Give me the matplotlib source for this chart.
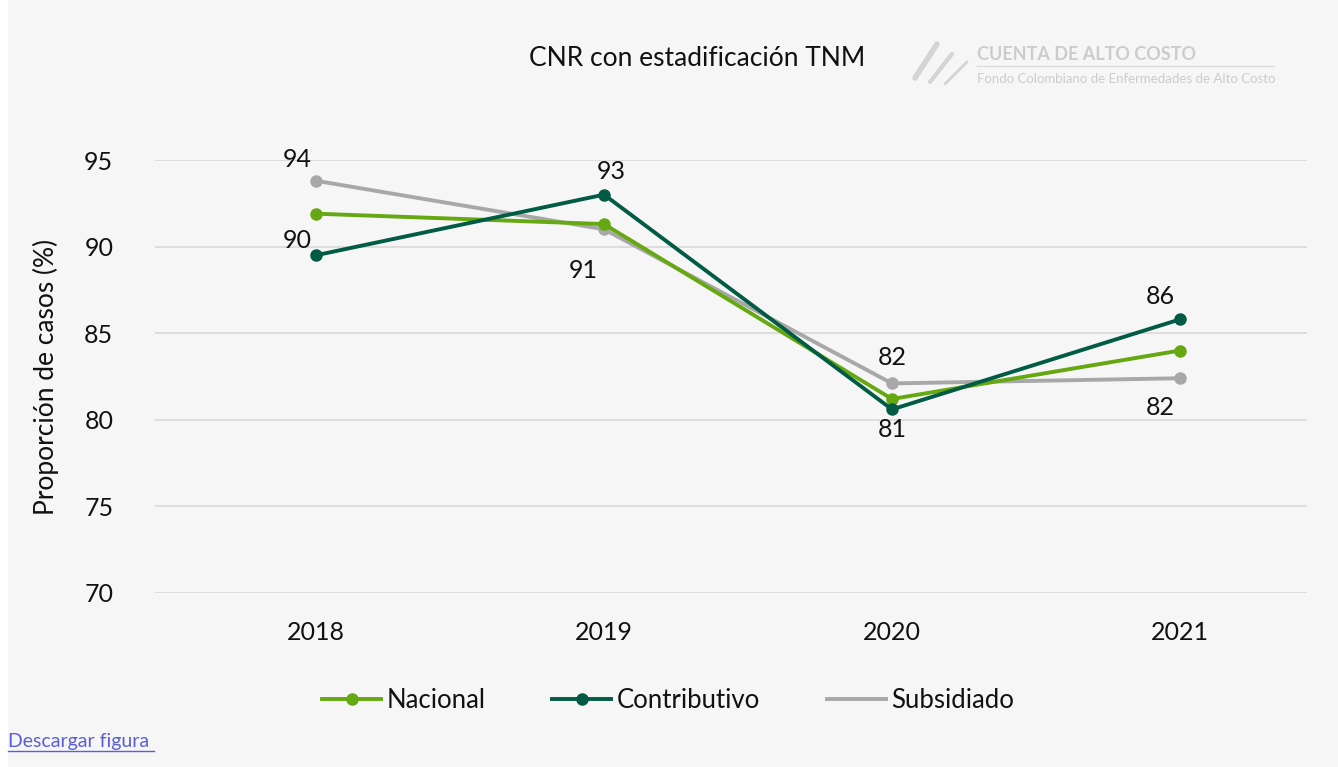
import matplotlib.pyplot as plt
from matplotlib.lines import Line2D
from matplotlib.patches import Rectangle

plt.rcParams['font.family'] = ['Lato', 'DejaVu Sans']

years = ['2018', '2019', '2020', '2021']
nacional = [91.9, 91.3, 81.2, 84.0]
contributivo = [89.5, 93.0, 80.6, 85.8]
subsidiado = [93.8, 91.0, 82.1, 82.4]

# data labels shown in the original
labels_contrib = ['90', '93', '81', '86']
labels_subsid = ['94', '91', '82', '82']

c_nac, c_con, c_sub = '#66a811', '#025b44', '#a8a8a8'
bg = '#f6f6f6'
fig = plt.figure(figsize=(13.38, 7.67), dpi=100, facecolor=bg)
fig.add_artist(Rectangle((0, 0), 8 / 1338, 1, transform=fig.transFigure,
                         facecolor='white', edgecolor='none'))
ax = fig.add_axes([155 / 1338, 1 - 593 / 767, (1307 - 155) / 1338, (593 - 160) / 767])
ax.set_facecolor(bg)

x = list(range(len(years)))
ax.plot(x, nacional, color=c_nac, lw=2.8, marker='o', ms=8, zorder=3)
ax.plot(x, contributivo, color=c_con, lw=2.8, marker='o', ms=8, zorder=4)
ax.plot(x, subsidiado, color=c_sub, lw=2.8, marker='o', ms=8, zorder=2)

ax.set_ylim(70, 95)
ax.set_xlim((155 - 316) / 288, 3 + (1307 - 1180) / 288)
ax.set_yticks([70, 75, 80, 85, 90, 95])
ax.set_xticks(x)
ax.set_xticklabels(years)
ax.grid(axis='y', color='#d9d9d9', lw=1.2)
ax.set_axisbelow(True)
for s in ax.spines.values():
    s.set_visible(False)
ax.tick_params(length=0, labelsize=18, colors='#111111')
ax.tick_params(axis='y', pad=30)
ax.tick_params(axis='x', pad=20)
ax.set_ylabel('Proporción de casos (%)', fontsize=19, color='#111111', labelpad=18)

lab_kw = dict(fontsize=18, color='#111111', ha='center', va='center',
              textcoords='offset pixels')
# label offsets in pixels from each point
ax.annotate(labels_subsid[0], (0, subsidiado[0]), xytext=(-19, 21), **lab_kw)
ax.annotate(labels_subsid[1], (1, subsidiado[1]), xytext=(-21, -41), **lab_kw)
ax.annotate(labels_subsid[2], (2, subsidiado[2]), xytext=(0, 26), **lab_kw)
ax.annotate(labels_subsid[3], (3, subsidiado[3]), xytext=(-20, -29), **lab_kw)
ax.annotate(labels_contrib[0], (0, contributivo[0]), xytext=(-19, 15), **lab_kw)
ax.annotate(labels_contrib[1], (1, contributivo[1]), xytext=(7, 23), **lab_kw)
ax.annotate(labels_contrib[2], (2, contributivo[2]), xytext=(0, -20), **lab_kw)
ax.annotate(labels_contrib[3], (3, contributivo[3]), xytext=(-20, 23), **lab_kw)

fig.text(697 / 1338, 1 - 58 / 767, 'CNR con estadificación TNM', fontsize=19,
         ha='center', va='center', color='#111111')

# logo
fig.text(977 / 1338, 1 - 55 / 767, 'CUENTA DE ALTO COSTO', fontsize=13, fontweight='bold',
         color='#cccccc', ha='left', va='center')
fig.add_artist(Line2D([977 / 1338, 1274 / 1338], [1 - 66 / 767, 1 - 66 / 767],
                      color='#dddddd', lw=1, transform=fig.transFigure))
fig.text(977 / 1338, 1 - 79 / 767, 'Fondo Colombiano de Enfermedades de Alto Costo', fontsize=9.5,
         color='#cccccc', ha='left', va='center')
for i, (x0, y0) in enumerate([(915, 78), (930, 82), (945, 84)]):
    fig.add_artist(Line2D([x0 / 1338, (x0 + 22) / 1338], [1 - y0 / 767, 1 - (y0 - 34 + i * 6) / 767],
                          color='#d4d4d4', lw=4 - i, solid_capstyle='round',
                          transform=fig.transFigure))

handles = [Line2D([], [], color=c_nac, lw=2.8, marker='o', ms=8),
           Line2D([], [], color=c_con, lw=2.8, marker='o', ms=8),
           Line2D([], [], color=c_sub, lw=2.8)]
leg = fig.legend(handles, ['Nacional', 'Contributivo', 'Subsidiado'], loc='center',
                 bbox_to_anchor=(668 / 1338, 1 - 700 / 767), ncol=3,
                 frameon=False, fontsize=18.5, handlelength=2.3, handletextpad=0.2,
                 columnspacing=2.6)
for t in leg.get_texts():
    t.set_color('#111111')

fig.text(8 / 1338, 1 - 742 / 767, 'Descargar figura', fontsize=14, color='#5b5fd6',
         ha='left', va='center')
fig.add_artist(Line2D([8 / 1338, 154 / 1338], [1 - 751 / 767, 1 - 751 / 767],
                      color='#5b5fd6', lw=1, transform=fig.transFigure))

fig.savefig('out.png', dpi=100, facecolor=bg)
